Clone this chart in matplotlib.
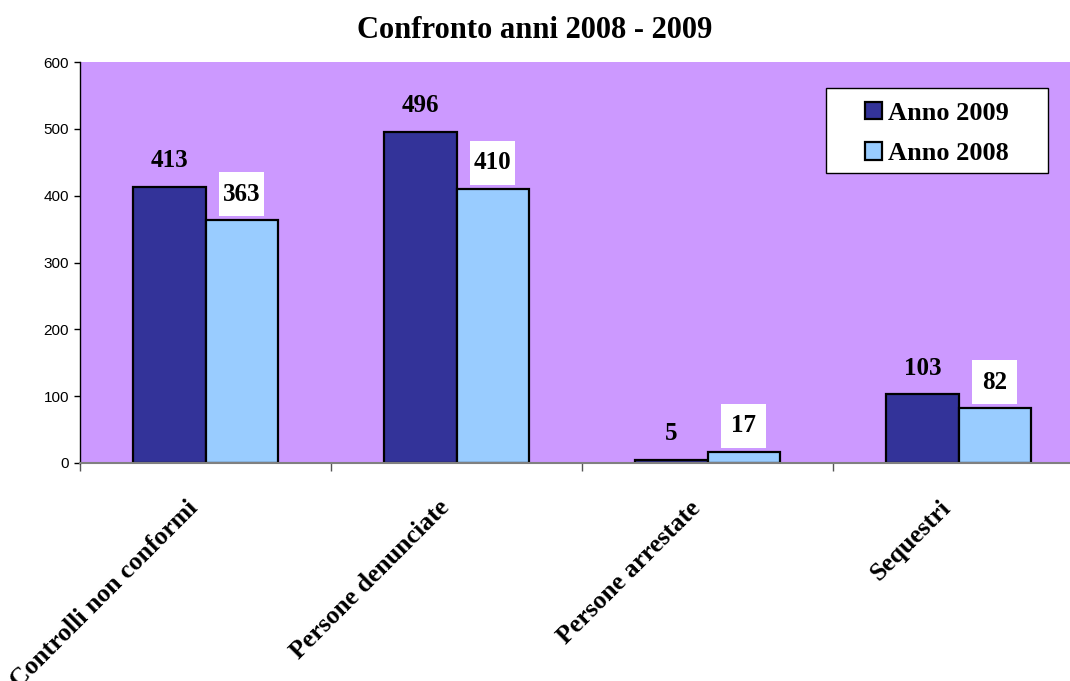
import matplotlib
matplotlib.use("Agg")
import matplotlib.pyplot as plt
import matplotlib.transforms as mtransforms
from matplotlib.patches import Rectangle
import numpy as np

categories = ["Controlli non conformi", "Persone denunciate", "Persone arrestate", "Sequestri"]
anno_2009 = [413, 496, 5, 103]
anno_2008 = [363, 410, 17, 82]
series_names = ["Anno 2009", "Anno 2008"]
title = "Confronto anni 2008 - 2009"

W, H = 1070, 681
fig = plt.figure(figsize=(W / 100, H / 100), dpi=100)
ax = fig.add_axes([80 / W, 1 - 463 / H, 1004 / W, 401 / H])
ax.set_facecolor("#CC99FF")

serif = "Liberation Serif"
x = np.arange(len(categories))
bw = 0.287
dark, light = "#333399", "#99CCFF"
ax.bar(x - bw / 2, anno_2009, bw, color=dark, edgecolor="black", linewidth=1.6, label=series_names[0], zorder=2)
ax.bar(x + bw / 2, anno_2008, bw, color=light, edgecolor="black", linewidth=1.6, label=series_names[1], zorder=2)

ax.set_xlim(-0.5, len(categories) - 0.5)
ax.set_ylim(0, 600)
ax.set_yticks(np.arange(0, 601, 100))
ax.tick_params(axis="y", direction="out", length=4, width=1, pad=4, labelsize=11, colors="black")
for lab in ax.get_yticklabels():
    lab.set_fontfamily("Liberation Sans")

# category boundaries as major ticks, labels at centres as minor ticks
ax.set_xticks(np.arange(-0.5, len(categories) + 0.5, 1))
ax.set_xticklabels([])
ax.tick_params(axis="x", which="major", direction="out", length=6, width=1, color="#555555")
ax.set_xticks(x, minor=True)
ax.set_xticklabels(categories, minor=True, rotation=45, ha="right", va="top",
                   rotation_mode="anchor", fontsize=18.5, fontweight="bold", fontfamily=serif)
ax.tick_params(axis="x", which="minor", length=0, pad=24)
off = mtransforms.ScaledTranslation(-19 / 100, 0, fig.dpi_scale_trans)
for lab in ax.get_xticklabels(minor=True):
    lab.set_transform(lab.get_transform() + off)

for s in ["top", "right"]:
    ax.spines[s].set_visible(False)
ax.spines["left"].set_color("black")
ax.spines["left"].set_linewidth(1)
ax.spines["bottom"].set_color("#808080")
ax.spines["bottom"].set_linewidth(1.5)

# value labels
per_px = 600 / 401
lab_off = 26 * per_px
for xi, v in zip(x, anno_2009):
    ax.text(xi - bw / 2, v + lab_off, str(v), ha="center", va="center",
            fontsize=18, fontweight="bold", fontfamily=serif, zorder=4)
box_w = 45 / 251
box_h = 44 * per_px
for xi, v in zip(x, anno_2008):
    ax.add_patch(Rectangle((xi + bw / 2 - box_w / 2, v + lab_off - box_h / 2), box_w, box_h,
                           facecolor="white", edgecolor="none", zorder=3))
    ax.text(xi + bw / 2, v + lab_off, str(v), ha="center", va="center",
            fontsize=18, fontweight="bold", fontfamily=serif, zorder=4)

fig.text(0.5, 1 - 30 / H, title, ha="center", va="center", fontsize=22,
         fontweight="bold", fontfamily=serif)

# legend with custom frame
lx0, lx1, ly0, ly1 = 826, 1048, 88, 173
fig.patches.append(Rectangle((lx0 / W, 1 - ly1 / H), (lx1 - lx0) / W, (ly1 - ly0) / H,
                             transform=fig.transFigure, facecolor="white",
                             edgecolor="black", linewidth=1, zorder=4))
leg = fig.legend(loc="center", bbox_to_anchor=((lx0 + lx1) / 2 / W, 1 - ((ly0 + ly1) / 2 + 3) / H),
                 frameon=False, prop={"family": serif, "weight": "bold", "size": 19},
                 handlelength=0.65, handleheight=0.65, handletextpad=0.25,
                 labelspacing=0.65, borderpad=0)
leg.set_zorder(5)

fig.savefig("out.png", dpi=100)
